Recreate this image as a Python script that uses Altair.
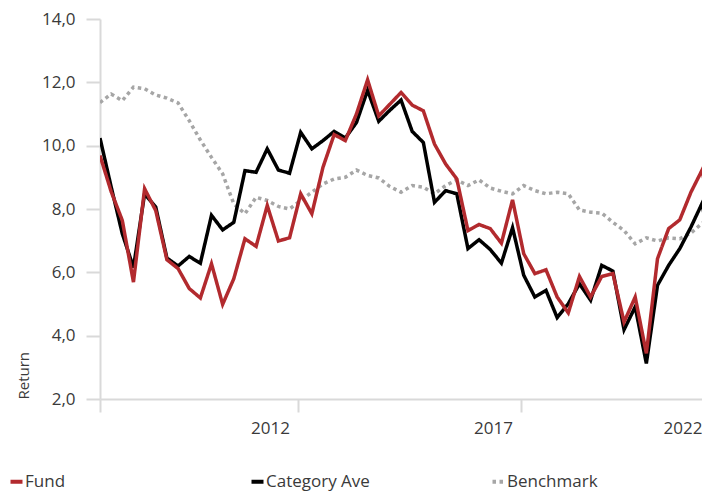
import altair as alt
import pandas as pd

# quarterly observations, first one mid-2007
t0 = 2007.56
step = 0.25

fund = [9.69, 8.55, 7.64, 5.69, 8.64, 7.95, 6.40, 6.12, 5.49, 5.19, 6.27, 4.99, 5.80, 7.06,
        6.82, 8.11, 6.99, 7.09, 8.48, 7.85, 9.32, 10.35, 10.16, 11.00, 12.08, 10.94, 11.31,
        11.68, 11.28, 11.10, 10.05, 9.42, 8.95, 7.32, 7.51, 7.38, 6.92, 8.29, 6.59, 5.96,
        6.08, 5.22, 4.72, 5.87, 5.22, 5.87, 5.96, 4.43, 5.22, 3.44, 6.43, 7.38, 7.66, 8.53,
        9.23, 7.42]
category_ave = [10.24, 8.70, 7.22, 6.15, 8.48, 8.06, 6.45, 6.20, 6.50, 6.29, 7.80, 7.34, 7.58,
                9.21, 9.16, 9.90, 9.23, 9.13, 10.42, 9.90, 10.16, 10.45, 10.24, 10.73, 11.75,
                10.77, 11.12, 11.44, 10.45, 10.10, 8.21, 8.58, 8.48, 6.75, 7.03, 6.72, 6.29,
                7.41, 5.91, 5.22, 5.43, 4.57, 5.01, 5.64, 5.12, 6.22, 6.04, 4.19, 4.91, 3.12,
                5.59, 6.22, 6.75, 7.43, 8.18, 6.20]
benchmark = [11.36, 11.63, 11.42, 11.85, 11.80, 11.60, 11.50, 11.35, 10.79, 10.18, 9.63, 9.11,
             8.16, 7.85, 8.37, 8.27, 8.08, 8.00, 8.27, 8.53, 8.79, 8.95, 9.00, 9.23, 9.06, 8.98,
             8.71, 8.53, 8.74, 8.69, 8.48, 8.74, 8.92, 8.74, 8.92, 8.66, 8.56, 8.48, 8.74, 8.58,
             8.48, 8.53, 8.48, 7.97, 7.90, 7.87, 7.58, 7.32, 6.90, 7.09, 6.99, 7.09, 7.06, 7.24,
             7.55, 7.80]

series_names = ["Fund", "Category Ave", "Benchmark"]
series_colors = ["#B22A2E", "#000000", "#A6A6A6"]
series_dash = [[1, 0], [1, 0], [3.5, 3.5]]
y_ticks = [2, 4, 6, 8, 10, 12, 14]
x_tick_values = [t0, 2012, 2017, 2020.62]

rows = []
# draw order: benchmark at the back, fund on top
for name, vals in [("Benchmark", benchmark), ("Category Ave", category_ave), ("Fund", fund)]:
    for i, v in enumerate(vals):
        rows.append({"t": t0 + step * i, "series": name, "value": v})
df = pd.DataFrame(rows)

PLOT_W = 602
x_max = t0 + PLOT_W / 44.6
AXIS_GRAY = "#D9D9D9"
TEXT = "#3A3A3A"
FONT = "Open Sans"

legend = alt.Legend(
    orient="none", legendX=-92, legendY=454, direction="horizontal", columns=3,
    title=None, symbolType="stroke", symbolSize=144, symbolStrokeWidth=4,
    labelFontSize=17, labelFont=FONT, labelColor=TEXT, labelOffset=0,
    columnPadding=114, gridAlign="all",
)

chart = alt.Chart(df).mark_line(strokeWidth=3.5, strokeCap="butt", clip=True).encode(
    x=alt.X("t:Q",
            scale=alt.Scale(domain=[t0, x_max], nice=False, zero=False),
            axis=alt.Axis(
                values=x_tick_values, title=None, grid=False,
                labelExpr="datum.value > 2020 ? '2022' : (datum.value < 2008 ? '' : format(datum.value, 'd'))",
                labelOffset={"condition": {"test": "datum.value > 2020", "value": 0}, "value": -28},
                tickOpacity={"condition": {"test": "datum.value > 2020", "value": 0}, "value": 1},
                domainColor=AXIS_GRAY, domainWidth=2, tickColor=AXIS_GRAY, tickWidth=2,
                tickSize=13, labelPadding=8, labelFont=FONT, labelFontSize=17,
                labelColor=TEXT, labelFlush=False, labelOverlap=False, labelBound=False,
            )),
    y=alt.Y("value:Q",
            scale=alt.Scale(domain=[2, 14], nice=False, zero=False),
            axis=alt.Axis(
                values=y_ticks, grid=False,
                labelExpr="replace(format(datum.value, '.1f'), '.', ',')",
                title="Return", titleAnchor="start", titleFontWeight="normal",
                titleFontSize=15, titleFont=FONT, titleColor=TEXT, titlePadding=10,
                domainColor=AXIS_GRAY, domainWidth=2, tickColor=AXIS_GRAY, tickWidth=2,
                tickSize=14, labelPadding=11, labelFont=FONT, labelFontSize=17,
                labelColor=TEXT,
            )),
    color=alt.Color("series:N", scale=alt.Scale(domain=series_names, range=series_colors),
                    legend=legend),
    strokeDash=alt.StrokeDash("series:N", scale=alt.Scale(domain=series_names, range=series_dash),
                              legend=legend),
).properties(
    width=PLOT_W, height=380,
    autosize=alt.AutoSizeParams(type="none"),
    padding={"left": 92, "top": 11, "right": 0, "bottom": 94},
).configure_view(stroke=None)

chart.save("out.html", embed_options={"renderer": "svg", "actions": False})
